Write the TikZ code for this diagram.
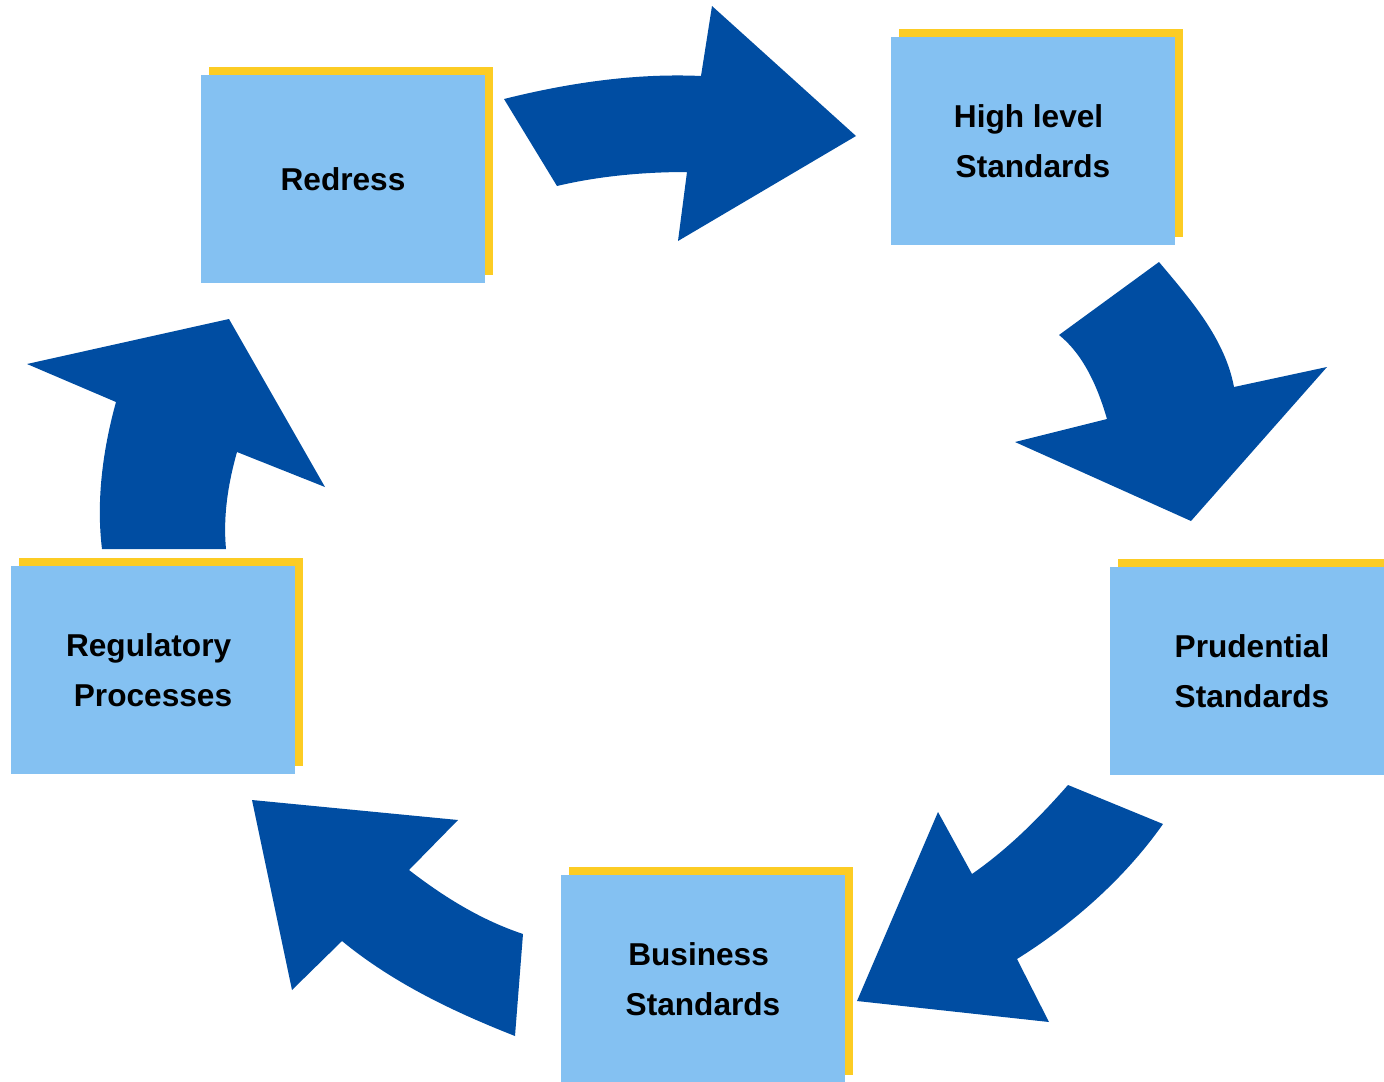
\documentclass[tikz,border=0pt]{standalone}
\usepackage{fontspec}
\setmainfont{Liberation Sans}
\definecolor{boxblue}{RGB}{132,193,242}
\definecolor{shadowyellow}{RGB}{252,204,36}
\definecolor{arrowblue}{RGB}{0,77,162}
\newcommand{\trailsp}{\hspace*{0.278em}}
\begin{document}
\begin{tikzpicture}[x=0.02cm,y=-0.02cm,
  stagebox/.style={rectangle,fill=boxblue,minimum width=5.68cm,minimum height=4.16cm,
    inner sep=0pt,align=center,font=\fontsize{18}{28.3}\selectfont\bfseries},
  stageshadow/.style={rectangle,fill=shadowyellow,minimum width=5.68cm,minimum height=4.16cm,inner sep=0pt},
  blockarrow/.style={fill=arrowblue}]
\useasboundingbox (0,0) rectangle (1384,1082);
\clip (0,0) rectangle (1384,1082);

% yellow backing plates, offset up and to the right
\node[stageshadow] (redress-s)   at (351,171) {};
\node[stageshadow] (high-s)      at (1041,133) {};
\node[stageshadow] (prudential-s) at (1260,663) {};
\node[stageshadow] (business-s)  at (711,971) {};
\node[stageshadow] (regulatory-s) at (161,662) {};

% stage boxes
\node[stagebox] (redress)    at (343,179) {Redress};
\node[stagebox] (high)       at (1033,141) {High level\trailsp\\Standards};
\node[stagebox] (prudential) at (1252,671) {Prudential\\Standards};
\node[stagebox] (business)   at (703,979) {Business\trailsp\\Standards};
\node[stagebox] (regulatory) at (153,670) {Regulatory\trailsp\\Processes};

% curved block arrows of the cycle
\fill[blockarrow] (504,99) .. controls (568,83) and (635,73) .. (701,76)
  -- (712,6) -- (856,136) -- (678,241) -- (687,172)
  .. controls (644,172) and (599,176) .. (557,186) -- cycle;

\fill[blockarrow] (1159,262) .. controls (1191,300) and (1225,339) .. (1234,387)
  -- (1327,367) -- (1191,521) -- (1015,442) -- (1107,419)
  .. controls (1098,388) and (1084,355) .. (1059,335) -- cycle;

\fill[blockarrow] (1163,824) .. controls (1125,878) and (1073,924) .. (1017,959)
  -- (1049,1022) -- (857,1001) -- (938,812) -- (972,874)
  .. controls (1008,849) and (1039,818) .. (1068,785) -- cycle;

\fill[blockarrow] (515,1036) .. controls (454,1012) and (393,983) .. (342,941)
  -- (292,990) -- (252,800) -- (458,820) -- (409,870)
  .. controls (444,897) and (481,920) .. (523,934) -- cycle;

\fill[blockarrow] (102,549) .. controls (96,500) and (103,449) .. (116,402)
  -- (27,364) -- (229,319) -- (325,487) -- (237,452)
  .. controls (228,484) and (223,516) .. (226,549) -- cycle;
\end{tikzpicture}
\end{document}
